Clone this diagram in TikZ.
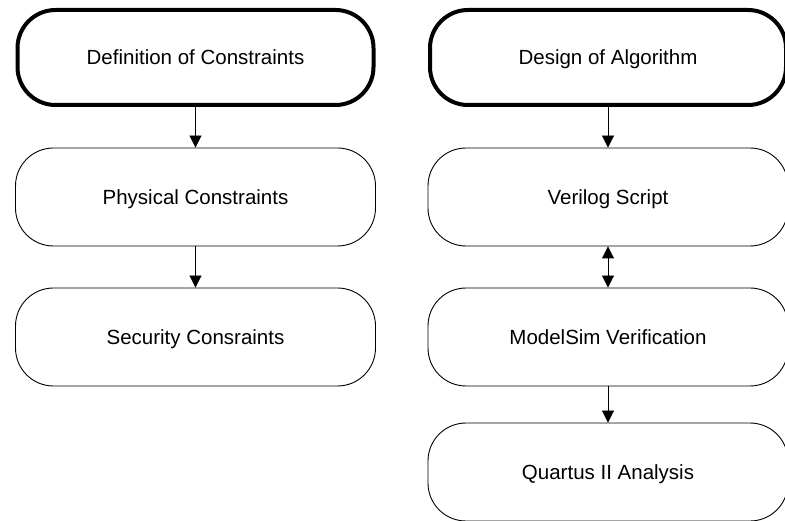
\documentclass[tikz,border=0pt]{standalone}
\usepackage{fontspec}
\setmainfont{Liberation Sans}
\usetikzlibrary{arrows.meta}
\begin{document}
\begin{tikzpicture}[x=1pt,y=1pt,
  boxnode/.style={draw=black, line width=0.9pt, rounded corners=38pt, minimum width=360pt, minimum height=98pt, inner sep=0pt, font=\fontsize{20.5}{24}\selectfont, text height=14.8pt, text depth=0pt, fill=white},
  thickbox/.style={boxnode, line width=4pt, minimum width=356pt, minimum height=95pt},
  conn/.style={line width=0.9pt, -{Triangle[length=12pt,width=12pt]}},
  dconn/.style={line width=0.9pt, {Triangle[length=12pt,width=12pt]}-{Triangle[length=12pt,width=12pt]}}]
\useasboundingbox (0,0) rectangle (785,520);
\clip (0,0) rectangle (785,520);
\fill[white] (0,0) rectangle (785,520);
\node[thickbox] (def) at (195.5,462.5) {Definition of Constraints};
\node[boxnode] (phys) at (195.5,323) {Physical Constraints};
\node[boxnode] (sec) at (195.5,183) {Security Consraints};
\node[thickbox] (alg) at (608,462.5) {Design of Algorithm};
\node[boxnode] (ver) at (608,323) {Verilog Script};
\node[boxnode] (mod) at (608,183) {ModelSim Verification};
\node[boxnode] (qua) at (608,48) {Quartus II Analysis};
\draw[conn] (def) -- (phys);
\draw[conn] (phys) -- (sec);
\draw[conn] (alg) -- (ver);
\draw[dconn] (ver) -- (mod);
\draw[conn] (mod) -- (qua);
\end{tikzpicture}
\end{document}
